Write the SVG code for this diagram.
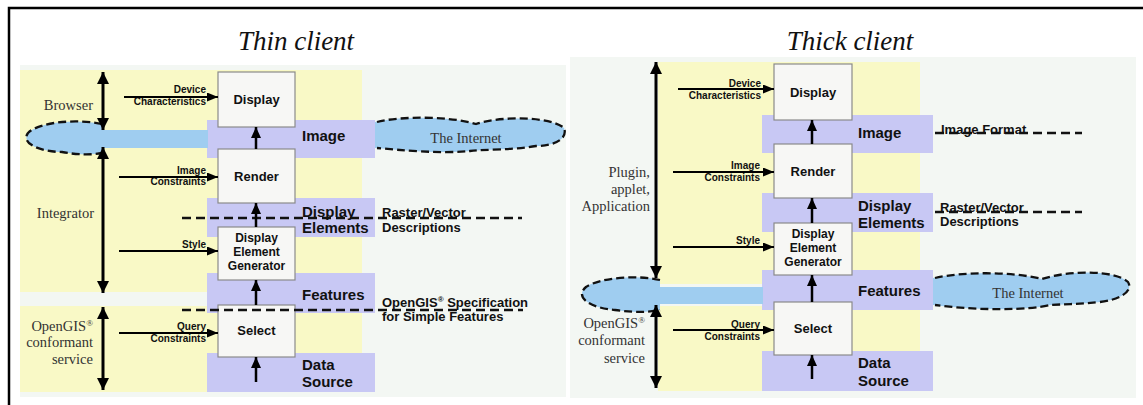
<svg xmlns="http://www.w3.org/2000/svg" width="1143" height="405" viewBox="0 0 1143 405">
<defs>
<style>
.bg{fill:#f3f7f3}
.yel{fill:#f9f9c6}
.pur{fill:#c8c8f4}
.blue{fill:#9fcdf0}
.box{fill:#f7f7f5;stroke:#8a8a8a;stroke-width:1.2}
.bl{font-family:"Liberation Sans",Arial,sans-serif;font-weight:bold;font-size:13px;fill:#111}
.gl{font-family:"Liberation Sans",Arial,sans-serif;font-weight:bold;font-size:12px;fill:#111}
.pl{font-family:"Liberation Sans",Arial,sans-serif;font-weight:bold;font-size:15px;fill:#111}
.dl{font-family:"Liberation Sans",Arial,sans-serif;font-weight:bold;font-size:13px;fill:#111}
.il{font-family:"Liberation Sans",Arial,sans-serif;font-weight:bold;font-size:10px;fill:#111;text-anchor:end}
.sl{font-family:"Liberation Serif","Times New Roman",serif;font-size:14.5px;fill:#333}
.tt{font-family:"Liberation Serif","Times New Roman",serif;font-style:italic;font-size:27px;fill:#111;text-anchor:middle}
.dash{stroke:#111;stroke-width:2.5;stroke-dasharray:9,5;fill:none}
.cl{stroke:#111;stroke-width:2.3;stroke-dasharray:8,4;fill:none}
.big{stroke:#000;stroke-width:3;fill:none}
.up{stroke:#000;stroke-width:2.5;fill:none}
.inp{stroke:#000;stroke-width:2;fill:none}
</style>
<marker id="mb" markerUnits="userSpaceOnUse" markerWidth="12" markerHeight="12" refX="12" refY="6" orient="auto-start-reverse"><path d="M0,0 L12,6 L0,12 z" fill="#000"/></marker>
<marker id="mu" markerUnits="userSpaceOnUse" markerWidth="11" markerHeight="10" refX="11" refY="5" orient="auto"><path d="M0,0 L11,5 L0,10 z" fill="#000"/></marker>
<marker id="mi" markerUnits="userSpaceOnUse" markerWidth="11" markerHeight="9" refX="11" refY="4.5" orient="auto"><path d="M0,0 L11,4.5 L0,9 z" fill="#000"/></marker>
</defs>
<rect width="1143" height="405" fill="#fff"/>
<path d="M9,405 L9,8 L1143,8" fill="none" stroke="#000" stroke-width="2.5"/>

<g id="thin-client">
<text class="tt" x="296" y="50">Thin client</text>
<rect class="bg" x="20" y="65" width="546" height="332"/>
<rect class="yel" x="20" y="70" width="342" height="222"/>
<rect class="yel" x="20" y="306" width="342" height="86"/>
<rect class="pur" x="207" y="120" width="168" height="38"/>
<rect class="pur" x="207" y="198" width="168" height="39"/>
<rect class="pur" x="207" y="273" width="168" height="40"/>
<rect class="pur" x="207" y="353" width="168" height="39"/>
</g>

<g id="internet-thin-left">
<path class="blue" d="M102,124 C80,119 40,121 28,133 C20,144 42,152 62,152 C78,155 92,155 102,153 Z"/>
<rect class="blue" x="98" y="130" width="110" height="18"/>
<path class="cl" d="M102,124 C80,119 40,121 28,133 C20,144 42,152 62,152 C78,155 92,155 102,153"/>
</g>
<g id="internet-thin-right">
<path class="blue" d="M375,122 C400,116 450,116 476,124 C500,116 550,116 564,128 C568,138 556,146 536,146 C512,150 490,149 470,151 C440,154 400,150 375,148 Z"/>
<path class="cl" d="M377,122 C400,116 450,116 476,124 C500,116 550,116 564,128 C568,138 556,146 536,146 C512,150 490,149 470,151 C440,154 400,150 377,148"/>
<text class="sl" x="466" y="143" text-anchor="middle">The Internet</text>
</g>

<g id="thin-display"><rect class="box" x="218" y="72" width="77" height="55"/><text class="bl" x="256.5" y="104" text-anchor="middle">Display</text></g>
<g id="thin-render"><rect class="box" x="218" y="149" width="77" height="54"/><text class="bl" x="256.5" y="181" text-anchor="middle">Render</text></g>
<g id="thin-generator"><rect class="box" x="218" y="227" width="77" height="53"/><text class="gl" x="256.5" y="242" text-anchor="middle">Display</text><text class="gl" x="256.5" y="256" text-anchor="middle">Element</text><text class="gl" x="256.5" y="270" text-anchor="middle">Generator</text></g>
<g id="thin-select"><rect class="box" x="218" y="305" width="77" height="52"/><text class="bl" x="256.5" y="335" text-anchor="middle">Select</text></g>

<g id="thin-labels">
<text class="pl" x="302" y="141">Image</text>
<text class="pl" x="302" y="217">Display</text>
<text class="pl" x="302" y="233">Elements</text>
<text class="pl" x="302" y="300">Features</text>
<text class="pl" x="302" y="370">Data</text>
<text class="pl" x="302" y="387">Source</text>
<text class="dl" x="382" y="217">Raster/Vector</text>
<text class="dl" x="382" y="232">Descriptions</text>
<text class="dl" x="382" y="307">OpenGIS<tspan font-size="8" dy="-5">®</tspan><tspan dy="5"> Specification</tspan></text>
<text class="dl" x="382" y="321">for Simple Features</text>
<text class="il" x="206" y="93">Device</text>
<text class="il" x="206" y="105">Characteristics</text>
<text class="il" x="206" y="174">Image</text>
<text class="il" x="206" y="185">Constraints</text>
<text class="il" x="206" y="248">Style</text>
<text class="il" x="206" y="330">Query</text>
<text class="il" x="206" y="342">Constraints</text>
<text class="sl" x="93" y="110" text-anchor="end">Browser</text>
<text class="sl" x="94" y="218" text-anchor="end">Integrator</text>
<text class="sl" x="93" y="331" text-anchor="end">OpenGIS<tspan font-size="9" dy="-5">®</tspan></text>
<text class="sl" x="93" y="347" text-anchor="end">conformant</text>
<text class="sl" x="93" y="364" text-anchor="end">service</text>
</g>

<g id="thick-client">
<text class="tt" x="850" y="50">Thick client</text>
<rect class="bg" x="570" y="57" width="566" height="341"/>
<rect class="yel" x="658" y="62" width="262" height="222"/>
<rect class="yel" x="658" y="306" width="262" height="85"/>
<rect class="pur" x="762" y="115" width="171" height="38"/>
<rect class="pur" x="762" y="193" width="171" height="39"/>
<rect class="pur" x="762" y="270" width="171" height="40"/>
<rect class="pur" x="762" y="351" width="171" height="40"/>
</g>

<g id="internet-thick-left">
<path class="blue" d="M660,280 C640,275 600,277 586,287 C574,297 590,308 615,310 C635,313 650,312 660,310 Z"/>
<rect class="blue" x="655" y="287" width="108" height="17"/>
<path class="cl" d="M660,280 C640,275 600,277 586,287 C574,297 590,308 615,310 C635,313 650,312 660,310"/>
</g>
<g id="internet-thick-right">
<path class="blue" d="M933,278 C960,272 1010,271 1042,279 C1070,270 1115,270 1128,282 C1134,292 1118,300 1100,302 C1080,304 1068,304 1050,305 C1030,310 980,311 933,305 Z"/>
<path class="cl" d="M935,278 C960,272 1010,271 1042,279 C1070,270 1115,270 1128,282 C1134,292 1118,300 1100,302 C1080,304 1068,304 1050,305 C1030,310 980,311 935,305"/>
<text class="sl" x="1028" y="298" text-anchor="middle">The Internet</text>
</g>

<g id="thick-display"><rect class="box" x="774" y="64" width="78" height="56"/><text class="bl" x="813" y="97" text-anchor="middle">Display</text></g>
<g id="thick-render"><rect class="box" x="774" y="144" width="78" height="54"/><text class="bl" x="813" y="176" text-anchor="middle">Render</text></g>
<g id="thick-generator"><rect class="box" x="774" y="223" width="78" height="52"/><text class="gl" x="813" y="238" text-anchor="middle">Display</text><text class="gl" x="813" y="252" text-anchor="middle">Element</text><text class="gl" x="813" y="266" text-anchor="middle">Generator</text></g>
<g id="thick-select"><rect class="box" x="774" y="302" width="78" height="53"/><text class="bl" x="813" y="333" text-anchor="middle">Select</text></g>

<g id="thick-labels">
<text class="pl" x="858" y="138">Image</text>
<text class="pl" x="858" y="211">Display</text>
<text class="pl" x="858" y="228">Elements</text>
<text class="pl" x="858" y="296">Features</text>
<text class="pl" x="858" y="368">Data</text>
<text class="pl" x="858" y="386">Source</text>
<text class="dl" x="941" y="134">Image Format</text>
<text class="dl" x="940" y="212">Raster/Vector</text>
<text class="dl" x="940" y="226">Descriptions</text>
<text class="il" x="761" y="87">Device</text>
<text class="il" x="761" y="99">Characteristics</text>
<text class="il" x="760" y="169">Image</text>
<text class="il" x="760" y="181">Constraints</text>
<text class="il" x="760" y="244">Style</text>
<text class="il" x="760" y="328">Query</text>
<text class="il" x="760" y="340">Constraints</text>
<text class="sl" x="650" y="177" text-anchor="end">Plugin,</text>
<text class="sl" x="650" y="194" text-anchor="end">applet,</text>
<text class="sl" x="650" y="211" text-anchor="end">Application</text>
<text class="sl" x="645" y="328" text-anchor="end">OpenGIS<tspan font-size="9" dy="-5">®</tspan></text>
<text class="sl" x="645" y="345" text-anchor="end">conformant</text>
<text class="sl" x="645" y="363" text-anchor="end">service</text>
</g>

<g id="connectors">
<line class="dash" x1="182" y1="218" x2="522" y2="218"/>
<line class="dash" x1="182" y1="310" x2="523" y2="310"/>
<line class="dash" x1="935" y1="133" x2="1082" y2="133"/>
<line class="dash" x1="935" y1="212" x2="1082" y2="212"/>
<line class="big" x1="103" y1="72" x2="103" y2="130" marker-start="url(#mb)" marker-end="url(#mb)"/>
<line class="big" x1="103" y1="147" x2="103" y2="293" marker-start="url(#mb)" marker-end="url(#mb)"/>
<line class="big" x1="103" y1="307" x2="103" y2="390" marker-start="url(#mb)" marker-end="url(#mb)"/>
<line class="big" x1="656" y1="62" x2="656" y2="278" marker-start="url(#mb)" marker-end="url(#mb)"/>
<line class="big" x1="656" y1="305" x2="656" y2="388" marker-start="url(#mb)" marker-end="url(#mb)"/>
<line class="up" x1="256" y1="149" x2="256" y2="127" marker-end="url(#mu)"/>
<line class="up" x1="256" y1="227" x2="256" y2="203" marker-end="url(#mu)"/>
<line class="up" x1="256" y1="305" x2="256" y2="280" marker-end="url(#mu)"/>
<line class="up" x1="256" y1="382" x2="256" y2="357" marker-end="url(#mu)"/>
<line class="up" x1="812" y1="144" x2="812" y2="120" marker-end="url(#mu)"/>
<line class="up" x1="812" y1="223" x2="812" y2="198" marker-end="url(#mu)"/>
<line class="up" x1="812" y1="302" x2="812" y2="275" marker-end="url(#mu)"/>
<line class="up" x1="812" y1="379" x2="812" y2="355" marker-end="url(#mu)"/>
<line class="inp" x1="124" y1="97" x2="218" y2="97" marker-end="url(#mi)"/>
<line class="inp" x1="119" y1="177" x2="218" y2="177" marker-end="url(#mi)"/>
<line class="inp" x1="119" y1="251" x2="218" y2="251" marker-end="url(#mi)"/>
<line class="inp" x1="119" y1="333" x2="218" y2="333" marker-end="url(#mi)"/>
<line class="inp" x1="678" y1="89" x2="774" y2="89" marker-end="url(#mi)"/>
<line class="inp" x1="673" y1="172" x2="774" y2="172" marker-end="url(#mi)"/>
<line class="inp" x1="673" y1="247" x2="774" y2="247" marker-end="url(#mi)"/>
<line class="inp" x1="673" y1="330" x2="774" y2="330" marker-end="url(#mi)"/>
</g>
</svg>
